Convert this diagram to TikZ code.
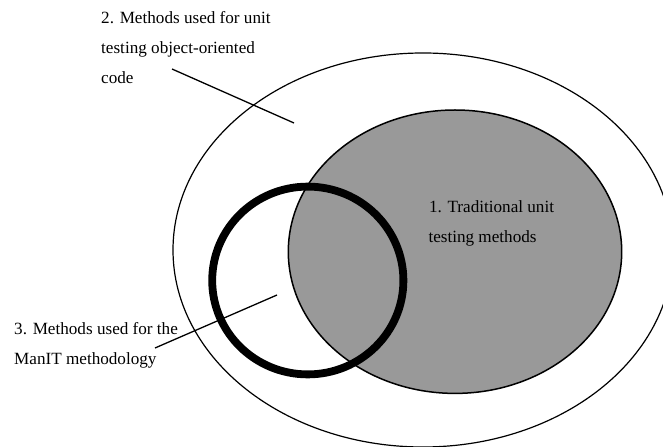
\documentclass[tikz,border=0pt]{standalone}
\usepackage{fontspec}
\setmainfont{Liberation Serif}
\definecolor{setgray}{RGB}{153,153,153}
\begin{document}
\begin{tikzpicture}[x=1bp,y=-1bp,
  labeltext/.style={anchor=base west, inner sep=0pt, font=\fontsize{17.2}{20}\selectfont},
  pointer/.style={line width=1.3bp},
  outerset/.style={line width=1.2bp, fill=white},
  innerset/.style={line width=1.5bp, fill=setgray},
  ringset/.style={line width=7.8bp},
]
\clip (0,0) rectangle (663,447);

% the three sets
\draw[outerset] (423,250) ellipse [x radius=250bp, y radius=197bp];
\draw[innerset] (455,251.7) ellipse [x radius=166.7bp, y radius=141.7bp];
\draw[ringset] (307.8,280.5) ellipse [x radius=95.6bp, y radius=93.9bp];

% labels
\node[labeltext] (l2a) at (101,23.5) {2. Methods used for unit};
\node[labeltext] (l2b) at (101,53.5) {testing object-oriented};
\node[labeltext] (l2c) at (101,83.5) {code};

\node[labeltext] (l1a) at (428.8,212.7) {1. Traditional unit};
\node[labeltext] (l1b) at (428.3,242.7) {testing methods};

\node[labeltext] (l3a) at (14,334.3) {3. Methods used for the};
\node[labeltext] (l3b) at (14,364.3) {ManIT methodology};

% pointer lines
\coordinate (p2s) at (172,69);
\coordinate (p2e) at (294,123);
\coordinate (p3s) at (155,348);
\coordinate (p3e) at (277,295);
\draw[pointer] (p2s) -- (p2e);
\draw[pointer] (p3s) -- (p3e);
\end{tikzpicture}
\end{document}
